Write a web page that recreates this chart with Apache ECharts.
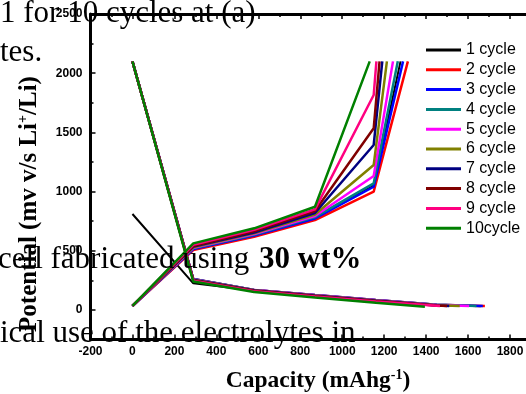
<!DOCTYPE html>
<html>
<head>
<meta charset="utf-8">
<script src="https://cdn.jsdelivr.net/npm/echarts@6/dist/echarts.min.js"></script>
<style>
  html, body { margin: 0; padding: 0; background: #fff; }
  #chart { width: 526px; height: 394px; }
</style>
</head>
<body>
<div id="chart"></div>
<script>
// Charge/discharge profiles, 10 cycles
const cycleNames = ['1 cycle', '2 cycle', '3 cycle', '4 cycle', '5 cycle',
                    '6 cycle', '7 cycle', '8 cycle', '9 cycle', '10cycle'];
const cycleColors = ['#000000', '#FF0000', '#0000FF', '#008080', '#FF00FF',
                     '#808000', '#000080', '#800000', '#FF0080', '#008000'];

const xTickValues = [-200, 0, 200, 400, 600, 800, 1000, 1200, 1400, 1600, 1800];
const yTickValues = [0, 500, 1000, 1500, 2000, 2500];
const yMinorTickValues = [250, 750, 1250, 1750, 2250];

// Discharge: capacity (mAh/g) and potential (mV)
const dischargeCapacity = [
  [0, 290, 580, 870, 1160, 1450, 1660],
  [0, 290, 580, 870, 1160, 1450, 1680],
  [0, 290, 580, 870, 1160, 1450, 1670],
  [0, 290, 580, 870, 1160, 1450, 1640],
  [0, 290, 580, 870, 1160, 1450, 1605],
  [0, 290, 580, 870, 1160, 1450, 1560],
  [0, 290, 580, 870, 1160, 1450, 1510],
  [0, 290, 580, 870, 1160, 1450, 1500],
  [0, 290, 580, 870, 1160, 1466],
  [0, 290, 580, 870, 1160, 1394]
];
const dischargePotential = [
  [811, 225, 165, 122, 80, 42, 32],
  [2100, 262, 170, 126, 84, 45, 33],
  [2100, 262, 170, 126, 84, 45, 33],
  [2100, 260, 169, 125, 83, 44, 33],
  [2100, 258, 168, 124, 82, 43, 33],
  [2100, 256, 166, 122, 80, 41, 33],
  [2100, 254, 164, 120, 78, 38, 33],
  [2100, 252, 162, 118, 76, 37, 33],
  [2100, 248, 158, 114, 72, 33],
  [2100, 240, 152, 105, 62, 28]
];

// Charge: capacity (mAh/g) and potential (mV)
const chargeCapacity = [
  [0, 290, 580, 870, 1150, 1278],
  [0, 290, 580, 870, 1150, 1313],
  [0, 290, 580, 870, 1150, 1290],
  [0, 290, 580, 870, 1150, 1265],
  [0, 290, 580, 870, 1150, 1242],
  [0, 290, 580, 870, 1150, 1213],
  [0, 290, 580, 870, 1150, 1191],
  [0, 290, 580, 870, 1150, 1178],
  [0, 290, 580, 870, 1150, 1163],
  [0, 290, 580, 870, 1131]
];
const chargePotential = [
  [34, 520, 632, 777, 1050, 2100],
  [34, 507, 619, 760, 1000, 2100],
  [34, 515, 628, 773, 1041, 2100],
  [34, 522, 636, 785, 1070, 2100],
  [34, 525, 641, 794, 1132, 2100],
  [34, 530, 648, 806, 1225, 2100],
  [34, 535, 655, 819, 1394, 2100],
  [34, 540, 665, 836, 1535, 2100],
  [34, 550, 678, 850, 1816, 2100],
  [34, 563, 690, 872, 2100]
];

const pairs = (xs, ys) => xs.map((x, i) => [x, ys[i]]);

const series = [];
cycleNames.forEach((name, i) => {
  const base = {
    name: name,
    type: 'line',
    symbol: 'none',
    xAxisIndex: 0,
    yAxisIndex: 0,
    itemStyle: { color: cycleColors[i] },
    lineStyle: { color: cycleColors[i], width: i === 0 ? 2 : 2.5 },
    emphasis: { disabled: true },
    animation: false
  };
  series.push(Object.assign({}, base, { data: pairs(dischargeCapacity[i], dischargePotential[i]) }));
  series.push(Object.assign({}, base, { data: pairs(chargeCapacity[i], chargePotential[i]) }));
});

const axisFont = { fontFamily: 'Liberation Sans', fontWeight: 'bold', fontSize: 12, color: '#000' };
const axisLineStyle = { show: true, onZero: false, lineStyle: { color: '#000', width: 3 } };
const majorTick = { show: true, inside: true, length: 5, lineStyle: { color: '#000', width: 1.5 } };
const minorTick = { show: true, splitNumber: 2, length: 3, lineStyle: { color: '#000', width: 1.5 } };

const chart = echarts.init(document.getElementById('chart'), null, { renderer: 'canvas' });
chart.setOption({
  backgroundColor: '#fff',
  animation: false,
  grid: { left: 90.5, right: -26, top: 14, bottom: 54.4, outerBoundsMode: 'none', containLabel: false },
  xAxis: [
    {
      type: 'value', position: 'bottom', min: -200, max: 2000, interval: 200,
      axisLine: axisLineStyle,
      axisTick: majorTick,
      minorTick: minorTick,
      axisLabel: Object.assign({ margin: 6, formatter: v => (xTickValues.indexOf(v) >= 0 ? String(v) : '') }, axisFont),
      splitLine: { show: false }
    },
    {
      type: 'value', position: 'top', min: -200, max: 2000, interval: 200,
      axisLine: axisLineStyle,
      axisTick: majorTick,
      minorTick: minorTick,
      axisLabel: { show: false },
      splitLine: { show: false }
    }
  ],
  yAxis: [
    {
      type: 'value', position: 'left', min: -250, max: 2500,
      axisLine: axisLineStyle,
      axisTick: Object.assign({ customValues: yTickValues }, majorTick),
      axisLabel: Object.assign({ margin: 8, customValues: yTickValues, formatter: v => String(v) }, axisFont),
      splitLine: { show: false }
    },
    {
      type: 'value', position: 'left', min: -250, max: 2500,
      axisLine: { show: false, onZero: false },
      axisTick: { show: true, inside: true, length: 3, customValues: yMinorTickValues, lineStyle: { color: '#000', width: 1.5 } },
      axisLabel: { show: false },
      splitLine: { show: false }
    }
  ],
  legend: {
    orient: 'vertical', left: 426, top: 42, padding: 0,
    icon: 'rect', itemWidth: 35, itemHeight: 3, itemGap: 3.8,
    data: cycleNames,
    selectedMode: false,
    textStyle: { fontFamily: 'Liberation Sans', fontSize: 16, color: '#000' }
  },
  graphic: [
    {
      type: 'text', x: 318, y: 381, z: 10,
      style: {
        text: '{a|Capacity (mAhg}{s|-1}{a|)}',
        align: 'center', verticalAlign: 'middle',
        rich: {
          a: { fontFamily: 'Liberation Serif', fontWeight: 'bold', fontSize: 23.5, fill: '#000' },
          s: { fontFamily: 'Liberation Serif', fontWeight: 'bold', fontSize: 14, fill: '#000', padding: [0, 0, 12, 0] }
        }
      }
    },
    {
      type: 'text', x: 30, y: 204, rotation: Math.PI / 2, z: 10,
      style: {
        text: '{a|Potential (mv v/s Li}{s|+}{a|/Li)}',
        align: 'center', verticalAlign: 'middle',
        rich: {
          a: { fontFamily: 'Liberation Serif', fontWeight: 'bold', fontSize: 25, fill: '#000' },
          s: { fontFamily: 'Liberation Serif', fontWeight: 'bold', fontSize: 14, fill: '#000', padding: [0, 0, 13, 0] }
        }
      }
    },
    // running text of the surrounding page
    { type: 'text', x: 0, y: 14, z: 20, style: { text: '1 for 10 cycles at (a)', font: '31px "Liberation Serif"', fill: '#000', verticalAlign: 'middle' } },
    { type: 'text', x: 0, y: 53, z: 20, style: { text: 'tes.', font: '31px "Liberation Serif"', fill: '#000', verticalAlign: 'middle' } },
    { type: 'text', x: -2, y: 260, z: 20, style: { text: 'cell fabricated using', font: '31px "Liberation Serif"', fill: '#000', verticalAlign: 'middle' } },
    { type: 'text', x: 259, y: 260, z: 20, style: { text: '30 wt%', font: 'bold 31px "Liberation Serif"', fill: '#000', verticalAlign: 'middle' } },
    { type: 'text', x: 0, y: 334, z: 20, style: { text: 'ical use of the electrolytes in', font: '31px "Liberation Serif"', fill: '#000', verticalAlign: 'middle' } }
  ],
  series: series
});
</script>
</body>
</html>
